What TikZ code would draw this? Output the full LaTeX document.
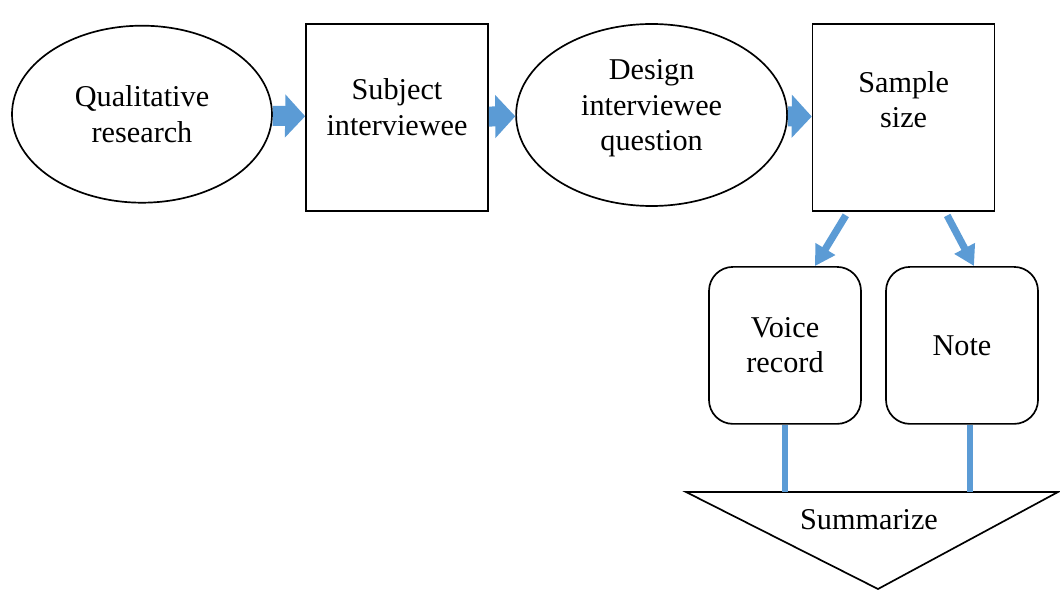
\documentclass[tikz,border=0pt]{standalone}
\usepackage{fontspec}
\setmainfont{Liberation Serif}
\usetikzlibrary{shapes.geometric,arrows.meta}
\definecolor{flowblue}{HTML}{5B9BD5}
\tikzset{
  ovalnode/.style={ellipse,draw,line width=1.2pt,align=center},
  boxnode/.style={rectangle,draw,line width=1.2pt,align=center,
    minimum width=4.55cm,minimum height=4.675cm},
  roundnode/.style={rectangle,draw,line width=1.2pt,rounded corners=0.6cm,
    align=center,minimum width=3.8cm,minimum height=3.925cm},
  blockarrow/.style={flowblue,line width=0.5cm,
    -{Triangle[length=0.5cm,width=1.05cm]}},
  thinarrow/.style={flowblue,line width=0.18cm,shorten <=3pt,
    -{Triangle[length=0.5cm,width=0.55cm]}},
  link/.style={flowblue,line width=0.13cm}
}
\begin{document}
\begin{tikzpicture}[every node/.style={font=\fontsize{21.5}{25}\selectfont}]
      \useasboundingbox (0,0) rectangle (26.5,14.775);

      \node[ovalnode,minimum width=6.5cm,minimum height=4.425cm] (qual)
           at (3.55,11.92) {Qualitative\\research};
      \node[boxnode,text depth=0.52cm] (subject) at (9.925,11.84)
           {Subject\\interviewee};
      \node[ovalnode,minimum width=6.775cm,minimum height=4.55cm,
           text depth=0.5cm] (design)
           at (16.29,11.9) {Design\\interviewee\\question};
      \node[boxnode,text depth=0.88cm] (sample) at (22.59,11.84)
           {Sample\\size};

      \node[roundnode] (voice) at (19.625,6.14) {Voice\\record};
      \node[roundnode] (note) at (24.05,6.14) {Note};

      % summarize triangle
      \coordinate (top) at (17.15,2.475);
      \draw[line width=1.2pt] (top) -- (26.45,2.475) -- (21.95,0.05) -- cycle;
      \node (summarize) at (21.725,1.775) {Summarize};

      \draw[blockarrow] (qual) -- (subject);
      \draw[blockarrow] (subject) -- (design);
      \draw[blockarrow] (design) -- (sample);

      \draw[thinarrow] ([xshift=-1.39cm]sample.south) to
      ([xshift=0.75cm]voice.north);
      \draw[thinarrow] ([xshift=1.04cm]sample.south) to
      ([xshift=0.3cm]note.north);

      \draw[link] (voice.south) -- (voice.south |- top);
      \draw[link] ([xshift=0.2cm]note.south) -- ([xshift=0.2cm]note.south |- top);
    \end{tikzpicture}
\end{document}
